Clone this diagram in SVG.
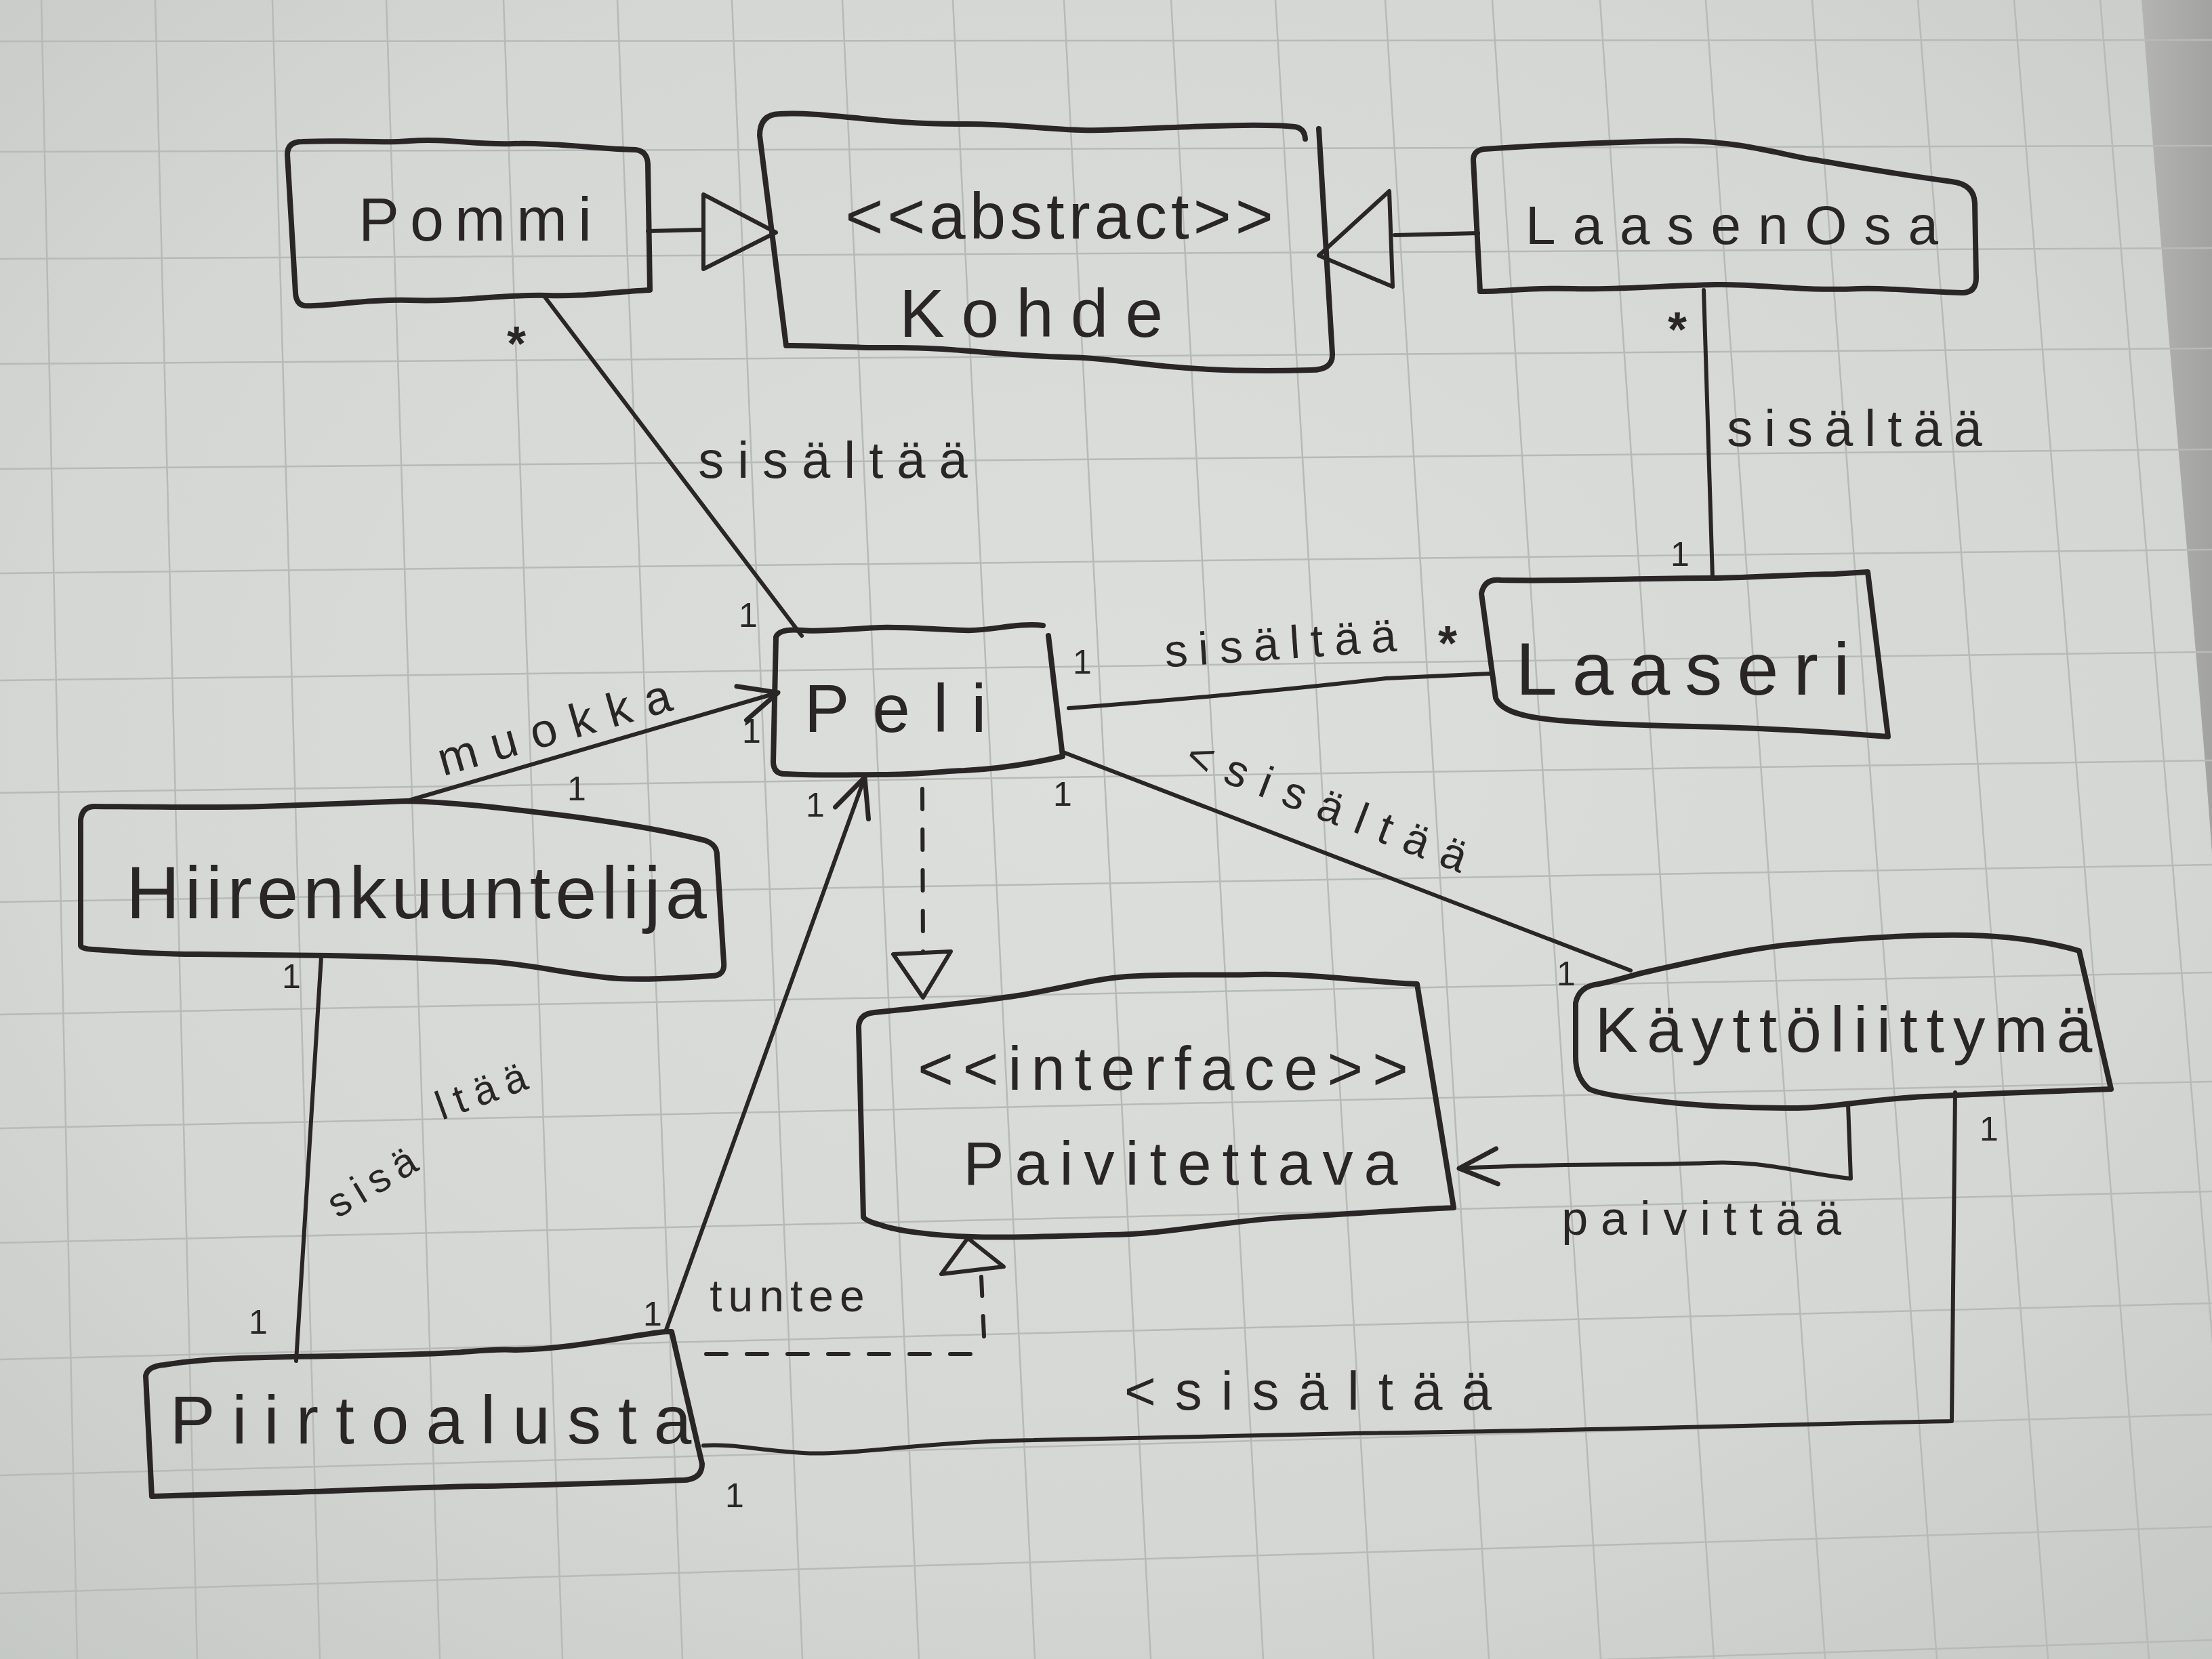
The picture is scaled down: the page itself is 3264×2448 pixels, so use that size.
<svg xmlns="http://www.w3.org/2000/svg" width="3264" height="2448" viewBox="0 0 3264 2448">
<defs>
<radialGradient id="paper" cx="0.5" cy="0.45" r="0.8">
<stop offset="0" stop-color="#dcdfdb"/>
<stop offset="0.6" stop-color="#d4d7d3"/>
<stop offset="1" stop-color="#c2c6c3"/>
</radialGradient>
<linearGradient id="shade" x1="0" y1="0" x2="1" y2="0">
<stop offset="0" stop-color="#b4b5b3"/>
<stop offset="1" stop-color="#a2a3a1"/>
</linearGradient>
<marker id="open" markerUnits="userSpaceOnUse" markerWidth="70" markerHeight="70" viewBox="0 0 70 70" refX="64" refY="35" orient="auto">
<path d="M 8,9 L 64,35 L 8,61" fill="none" stroke="#2a2527" stroke-width="7" stroke-linecap="round" stroke-linejoin="round"/>
</marker>
<style>
.grid line{stroke:#b7bab7;stroke-width:2.5}
.box{fill:none;stroke:#2a2527;stroke-width:8;stroke-linecap:round;stroke-linejoin:round}
.edge{fill:none;stroke:#2a2527;stroke-width:6;stroke-linecap:round;stroke-linejoin:round}
.tri{fill:none;stroke:#2a2527;stroke-width:6;stroke-linejoin:round}
.dash{stroke-dasharray:30 30}
text{font-family:"Liberation Sans","DejaVu Sans",sans-serif;fill:#2a2527;text-anchor:middle}
.m1{font-size:50px}
.ast{font-size:72px;font-weight:bold}
.lbl{font-size:76px}
</style>
</defs>
<rect width="3264" height="2448" fill="url(#paper)"/>
<path d="M3160,0 L3264,0 L3264,1260 C3250,1050 3215,700 3160,0 Z" fill="url(#shade)"/>
<g class="grid">
<line x1="61" y1="0" x2="114" y2="2448"/>
<line x1="229" y1="0" x2="291" y2="2448"/>
<line x1="402" y1="0" x2="472" y2="2448"/>
<line x1="570" y1="0" x2="649" y2="2448"/>
<line x1="743" y1="0" x2="830" y2="2448"/>
<line x1="911" y1="0" x2="1007" y2="2448"/>
<line x1="1080" y1="0" x2="1184" y2="2448"/>
<line x1="1243" y1="0" x2="1356" y2="2448"/>
<line x1="1406" y1="0" x2="1527" y2="2448"/>
<line x1="1570" y1="0" x2="1698" y2="2448"/>
<line x1="1728" y1="0" x2="1864" y2="2448"/>
<line x1="1882" y1="0" x2="2027" y2="2448"/>
<line x1="2044" y1="0" x2="2197" y2="2448"/>
<line x1="2202" y1="0" x2="2362" y2="2448"/>
<line x1="2361" y1="0" x2="2529" y2="2448"/>
<line x1="2517" y1="0" x2="2693" y2="2448"/>
<line x1="2674" y1="0" x2="2858" y2="2448"/>
<line x1="2830" y1="0" x2="3022" y2="2448"/>
<line x1="2972" y1="0" x2="3171" y2="2448"/>
<line x1="3099" y1="0" x2="3304" y2="2448"/>
<line x1="0" y1="61" x2="3264" y2="59"/>
<line x1="0" y1="224" x2="3264" y2="215"/>
<line x1="0" y1="382" x2="3264" y2="366"/>
<line x1="0" y1="537" x2="3264" y2="514"/>
<line x1="0" y1="692" x2="3264" y2="663"/>
<line x1="0" y1="846" x2="3264" y2="811"/>
<line x1="0" y1="1004" x2="3264" y2="962"/>
<line x1="0" y1="1170" x2="3264" y2="1122"/>
<line x1="0" y1="1331" x2="3264" y2="1276"/>
<line x1="0" y1="1497" x2="3264" y2="1435"/>
<line x1="0" y1="1665" x2="3264" y2="1596"/>
<line x1="0" y1="1834" x2="3264" y2="1758"/>
<line x1="0" y1="2006" x2="3264" y2="1923"/>
<line x1="0" y1="2177" x2="3264" y2="2087"/>
<line x1="0" y1="2351" x2="3264" y2="2253"/>
<line x1="0" y1="2525" x2="3264" y2="2420"/>
</g>

<g id="connectors">
<path class="edge" d="M 956,341 L 1038,339"/>
<polygon class="tri" points="1038,287 1038,397 1145,343"/>
<path class="edge" d="M 2058,347 L 2181,344"/>
<polygon class="tri" points="2050,282 2055,423 1946,377"/>
<path class="edge" d="M 803,437 L 1183,938"/>
<path class="edge" d="M 2514,428 L 2527,853"/>
<path class="edge" d="M 1577,1045 C 1680,1037 1880,1020 2045,1001 L 2198,994"/>
<path class="edge" d="M 1569,1110 L 2406,1432"/>
<path class="edge" d="M 600,1182 L 1148,1022" marker-end="url(#open)"/>
<path class="edge" d="M 474,1412 L 437,2008"/>
<path class="edge" d="M 982,1965 L 1276,1147" marker-end="url(#open)"/>
<path class="edge dash" d="M 1361,1164 L 1362,1404"/>
<polygon class="tri" points="1318,1408 1403,1404 1362,1472"/>
<path class="edge dash" d="M 1042,1998 L 1440,1998"/>
<path class="edge dash" d="M 1452,1972 L 1448,1884"/>
<polygon class="tri" points="1389,1880 1481,1869 1428,1827"/>
<path class="edge" d="M 2727,1630 L 2731,1739 C 2650,1730 2600,1712 2520,1716 C 2420,1720 2300,1716 2153,1724" marker-end="url(#open)"/>
<path class="edge" d="M 2885,1612 L 2880,2097 C 2700,2100 2400,2110 2000,2115 C 1800,2118 1600,2122 1481,2126 C 1350,2130 1250,2148 1185,2144 C 1120,2140 1080,2130 1038,2133"/>
<text class="ast" x="762" y="532">*</text>
<text class="lbl" x="1239" y="705" letter-spacing="20">sisältää</text>
<text class="m1" x="1104" y="925">1</text>
<text class="ast" x="2475" y="511">*</text>
<text class="lbl" x="2745" y="658" letter-spacing="17">sisältää</text>
<text class="m1" x="2479" y="835">1</text>
<text class="m1" x="1597" y="994">1</text>
<text class="lbl" transform="translate(1898,960) rotate(-4)" x="0" y="12" style="font-size:68px" letter-spacing="16">sisältää</text>
<text class="ast" x="2136" y="974">*</text>
<text class="m1" x="1568" y="1189">1</text>
<text class="lbl" transform="translate(1967,1197) rotate(21)" x="0" y="18" style="font-size:66px" letter-spacing="22">&lt;sisältää</text>
<text class="m1" x="2311" y="1454">1</text>
<text class="lbl" transform="translate(830,1076) rotate(-16)" x="0" y="18" style="font-size:70px" letter-spacing="22">muokka</text>
<text class="m1" x="851" y="1181">1</text>
<text class="m1" x="1109" y="1096">1</text>
<text class="m1" x="430" y="1458">1</text>
<text class="m1" x="381" y="1968">1</text>
<text class="lbl" transform="translate(556,1745) rotate(-31)" x="0" y="16" style="font-size:60px" letter-spacing="12">sisä</text>
<text class="lbl" transform="translate(718,1612) rotate(-20)" x="0" y="16" style="font-size:60px" letter-spacing="14">ltää</text>
<text class="m1" x="1203" y="1205">1</text>
<text class="m1" x="963" y="1956">1</text>
<text class="lbl" x="1166" y="1935" style="font-size:66px" letter-spacing="9">tuntee</text>
<text class="lbl" x="2520" y="1822" style="font-size:70px" letter-spacing="19">paivittää</text>
<text class="m1" x="2935" y="1683">1</text>
<text class="lbl" x="1944" y="2080" style="font-size:80px" letter-spacing="28">&lt;sisältää</text>
<text class="m1" x="1084" y="2224">1</text>
</g>

<g id="pommi">
<path class="box" d="M 436,432 L 424,228 Q 424,209 446,209 C 520,206 560,212 604,208 C 660,204 700,214 757,212 C 820,210 880,220 938,221 Q 955,223 956,242 L 959,428 C 900,431 860,438 808,436 C 740,434 680,446 604,443 C 540,441 480,453 449,451 Q 437,449 436,432 Z"/>
<text x="709" y="355" style="font-size:90px" letter-spacing="16">Pommi</text>
</g>

<g id="kohde">
<path class="box" d="M 1946,190 L 1966,522 Q 1967,546 1935,546 C 1860,548 1790,547 1727,541 C 1660,535 1620,527 1573,527 C 1480,525 1400,512 1318,513 C 1260,514 1200,509 1160,510 L 1121,200 Q 1121,169 1150,168 C 1220,164 1300,184 1420,183 C 1500,182 1560,194 1624,192 C 1720,189 1850,181 1910,187 Q 1925,189 1926,205"/>
<text x="1566" y="352" style="font-size:96px" letter-spacing="6">&lt;&lt;abstract&gt;&gt;</text>
<text x="1534" y="497" style="font-size:100px" letter-spacing="25">Kohde</text>
</g>

<g id="laasenosa">
<path class="box" d="M 2184,430 L 2174,236 Q 2174,222 2190,220 C 2260,215 2380,210 2461,208 C 2560,206 2620,226 2672,235 C 2740,246 2790,256 2880,268 Q 2913,272 2914,300 L 2916,410 Q 2916,432 2895,432 C 2830,430 2780,424 2742,426 C 2660,430 2600,419 2532,420 C 2440,422 2380,428 2321,426 C 2260,424 2220,430 2184,430 Z"/>
<text x="2568" y="360" style="font-size:80px" letter-spacing="25">LaasenOsa</text>
</g>

<g id="peli">
<path class="box" d="M 1539,923 C 1500,918 1460,932 1423,930 C 1370,928 1330,925 1299,926 C 1250,928 1210,933 1183,930 Q 1150,927 1145,940 L 1141,1125 Q 1142,1143 1160,1142 C 1220,1145 1260,1143 1299,1143 C 1360,1143 1400,1137 1423,1137 C 1480,1134 1530,1125 1568,1116 L 1547,938"/>
<text x="1338" y="1080" style="font-size:100px" letter-spacing="34">Peli</text>
</g>

<g id="laaseri">
<path class="box" d="M 2207,1030 L 2186,876 Q 2190,853 2215,856 C 2320,858 2420,853 2525,853 C 2600,852 2660,847 2707,847 L 2756,844 L 2786,1087 C 2700,1080 2600,1074 2498,1072 C 2400,1070 2330,1066 2290,1062 C 2250,1058 2215,1050 2207,1030 Z"/>
<text x="2494" y="1025" style="font-size:110px" letter-spacing="22">Laaseri</text>
</g>

<g id="hiirenkuuntelija">
<path class="box" d="M 119,1395 L 119,1210 Q 121,1190 140,1190 C 250,1191 320,1192 387,1190 C 480,1187 540,1184 600,1182 C 680,1184 760,1195 830,1203 C 900,1212 980,1225 1040,1240 Q 1058,1246 1058,1262 L 1068,1420 Q 1070,1440 1050,1440 C 990,1444 950,1446 913,1444 C 850,1440 780,1422 722,1419 C 640,1414 560,1411 483,1410 C 400,1409 340,1408 291,1408 C 220,1408 170,1403 138,1401 Q 119,1400 119,1395 Z"/>
<text x="618" y="1355" style="font-size:110px" letter-spacing="7">Hiirenkuuntelija</text>
</g>

<g id="paivitettava">
<path class="box" d="M 1274,1796 L 1267,1515 Q 1268,1496 1290,1494 C 1360,1487 1430,1480 1502,1469 C 1560,1460 1610,1445 1662,1441 C 1730,1436 1790,1440 1850,1438 C 1940,1436 2030,1450 2091,1452 L 2145,1782 C 2060,1786 1980,1792 1903,1796 C 1810,1801 1720,1822 1636,1822 C 1560,1824 1490,1827 1435,1825 C 1370,1823 1320,1815 1301,1808 Q 1278,1802 1274,1796 Z"/>
<text x="1723" y="1608" style="font-size:90px" letter-spacing="14">&lt;&lt;interface&gt;&gt;</text>
<text x="1750" y="1748" style="font-size:90px" letter-spacing="16">Paivitettava</text>
</g>

<g id="kayttoliittyma">
<path class="box" d="M 2345,1607 Q 2325,1590 2325,1560 L 2325,1480 Q 2330,1455 2359,1452 C 2390,1446 2410,1438 2439,1432 C 2510,1416 2580,1400 2640,1394 C 2730,1385 2820,1378 2908,1380 C 2980,1382 3030,1392 3068,1403 L 3115,1607 C 3030,1610 2930,1614 2841,1618 C 2760,1622 2700,1635 2653,1635 C 2560,1636 2490,1630 2439,1624 C 2400,1620 2360,1614 2345,1607 Z"/>
<text x="2727" y="1552" style="font-size:95px" letter-spacing="13">Käyttöliittymä</text>
</g>

<g id="piirtoalusta">
<path class="box" d="M 242,2014 C 280,2008 310,2006 335,2005 C 450,2000 560,2002 668,1996 C 700,1994 730,1990 760,1992 C 850,1990 930,1970 982,1965 L 991,1965 L 1036,2160 Q 1036,2182 1010,2184 C 900,2188 800,2192 705,2193 C 600,2195 500,2200 427,2202 C 340,2205 270,2207 224,2208 L 215,2030 Q 218,2016 242,2014 Z"/>
<text x="648" y="2130" style="font-size:100px" letter-spacing="25">Piirtoalusta</text>
</g>
</svg>
